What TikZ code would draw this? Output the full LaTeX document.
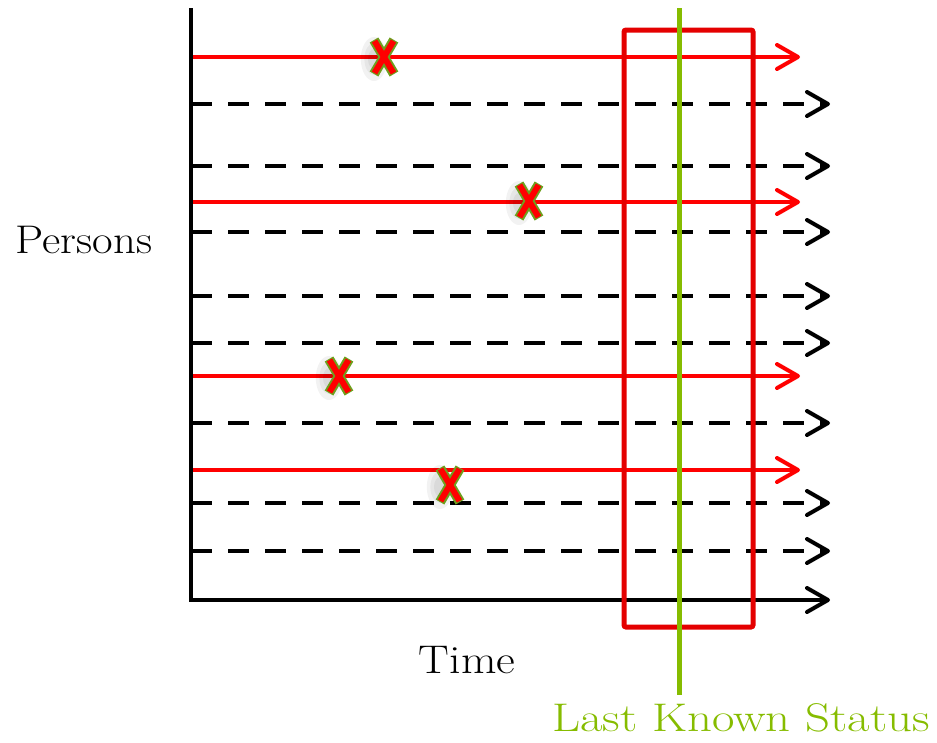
\documentclass[tikz,border=0pt]{standalone}
\usepackage{fontspec}
\usepackage{graphicx}
\usetikzlibrary{arrows.meta}
\definecolor{lkgreen}{RGB}{134,188,0}
\definecolor{xgreen}{RGB}{110,160,30}
\definecolor{boxred}{RGB}{228,0,0}
\tikzset{
  chev/.tip={Straight Barb[length=21pt,width=24pt,line width=4pt,round]},
  life/.style={line width=3.5pt,red,-chev},
  dashlife/.style={line width=3.5pt,black,dash pattern=on 21pt off 16pt,-chev},
  axis/.style={line width=4pt,black},
  lbl/.style={font=\fontsize{40}{46}\selectfont,inner sep=0pt},
}
\newcommand{\deathmark}[2]{%
  \begin{scope}[shift={(#1,#2)}]
    \foreach \w in {22,16,10}{
      \fill[black,opacity=0.05] (-10,2) ellipse ({\w*0.6} and \w);
    }
    \draw[line width=10pt,xgreen] (-10,-17) -- (10,17) (10,-17) -- (-10,17);
    \draw[line width=6pt,red] (-9.5,-16) -- (9.5,16) (9.5,-16) -- (-9.5,16);
  \end{scope}}
\begin{document}
\begin{tikzpicture}[x=1pt,y=-1pt]
\useasboundingbox (0,0) rectangle (937,742);
% axes
\coordinate (top) at (191,8);
\coordinate (origin) at (191,600);
\coordinate (xend) at (830,600);
% dashed lifelines
\foreach \y in {104,166,232,296,343,423,503,551}{
  \coordinate (ds\y) at (191,\y);
  \coordinate (de\y) at (830,\y);
  \draw[dashlife] (ds\y) -- (de\y);
}
% red lifelines
\foreach \y in {57,202,376,470}{
  \coordinate (rs\y) at (191,\y);
  \coordinate (re\y) at (800,\y);
  \draw[life] (rs\y) -- (re\y);
}
\draw[axis,-chev,line join=miter] (top) -- (origin) -- (xend);
% window box and status line
\coordinate (boxA) at (624,30);
\coordinate (boxB) at (753,627);
\draw[boxred,line width=5pt,rounded corners=2pt] (boxA) rectangle (boxB);
\coordinate (gtop) at (679,8);
\coordinate (gbot) at (679,695);
\draw[lkgreen,line width=5pt] (gtop) -- (gbot);
% death marks
\deathmark{384}{57}
\deathmark{529}{201}
\deathmark{339}{376}
\deathmark{450}{485}
% labels
\node[lbl] (persons) at (84,240) {\scalebox{1.12}[1]{Persons}};
\node[lbl] (time) at (467,660) {\scalebox{1.15}[1]{Time}};
\node[lbl,text=lkgreen] (status) at (741,718) {\scalebox{1.22}[1]{Last Known Status}};
\end{tikzpicture}
\end{document}
